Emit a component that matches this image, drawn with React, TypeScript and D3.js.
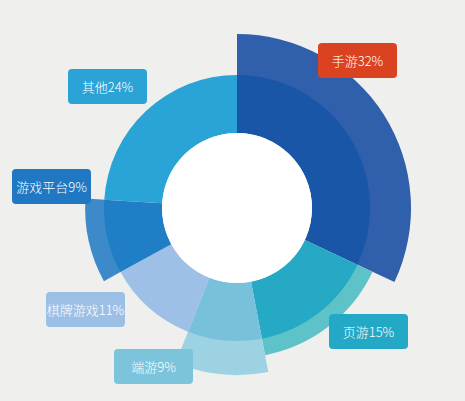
import { useEffect, useRef } from "react";
import * as d3 from "d3";

const categories = ["手游", "页游", "端游", "棋牌游戏", "游戏平台", "其他"];
const shares = [32, 15, 9, 11, 9, 24];
// how far each slice grows beyond the base ring (0 = none, 1 = the largest)
const extensions = [1, 0.41, 0.83, 0, 0.46, 0];

const innerColors = ["#1a56a8", "#26a9c5", "#78c1da", "#9ec0e6", "#1f7ec5", "#2aa3d6"];
const outerColors = ["#305fab", "#5ec2c9", "#9dd2e2", "#9ec0e6", "#3d8acb", "#2aa3d6"];
const labelColors = ["#db4220", "#23a9c6", "#7cc3dc", "#9bbfe5", "#1f78c1", "#2ba3d6"];

// label box top-left corners
const labelPos: [number, number][] = [
  [318, 43],
  [329, 314],
  [114, 349],
  [46, 292],
  [12, 169],
  [68, 69],
];

export default function App() {
  const svgRef = useRef<SVGSVGElement>(null);

  useEffect(() => {
    if (!svgRef.current) return;
    const svg = d3.select(svgRef.current);
    svg.selectAll("*").remove();

    const width = 465;
    const height = 401;
    const cx = 237;
    const cy = 208;
    const innerR = 75;
    const baseR = 133;

    svg.append("rect").attr("width", width).attr("height", height).attr("fill", "#efefed");

    const ext = d3.scaleLinear().domain([0, 1]).range([baseR, 174]);

    const rows = categories.map((c, i) => ({ c, v: shares[i], e: extensions[i], i }));
    const pie = d3
      .pie<(typeof rows)[number]>()
      .value((d) => d.v)
      .sort(null);
    const arcs = pie(rows);

    const g = svg.append("g").attr("transform", `translate(${cx},${cy})`);

    const outerArc = d3.arc<d3.PieArcDatum<(typeof rows)[number]>>()
      .innerRadius(baseR - 1)
      .outerRadius((d) => ext(d.data.e));
    const innerArc = d3.arc<d3.PieArcDatum<(typeof rows)[number]>>()
      .innerRadius(innerR)
      .outerRadius(baseR);

    g.selectAll("path.outer")
      .data(arcs.filter((d) => d.data.e > 0))
      .join("path")
      .attr("class", "outer")
      .attr("d", outerArc)
      .attr("fill", (d) => outerColors[d.data.i]);

    g.selectAll("path.inner")
      .data(arcs)
      .join("path")
      .attr("class", "inner")
      .attr("d", innerArc)
      .attr("fill", (d) => innerColors[d.data.i]);

    g.append("circle").attr("r", innerR).attr("fill", "#ffffff");

    // labels
    const boxW = 79;
    const boxH = 35;
    const lab = svg
      .selectAll("g.label")
      .data(rows)
      .join("g")
      .attr("class", "label")
      .attr("transform", (d) => `translate(${labelPos[d.i][0]},${labelPos[d.i][1]})`);
    lab
      .append("rect")
      .attr("width", boxW)
      .attr("height", boxH)
      .attr("rx", 4)
      .attr("fill", (d) => labelColors[d.i]);
    lab
      .append("text")
      .attr("x", boxW / 2)
      .attr("y", boxH / 2)
      .attr("text-anchor", "middle")
      .attr("dominant-baseline", "central")
      .attr("fill", "#ffffff")
      .attr("font-size", 13)
      .attr("font-weight", 300)
      .attr("font-family", "'Noto Sans CJK SC', sans-serif")
      .text((d) => `${d.c}${d.v}%`);
  }, []);

  return (
    <div style={{ position: "fixed", left: 0, top: 0 }}>
      <svg ref={svgRef} width={465} height={401} style={{ display: "block" }} />
    </div>
  );
}
